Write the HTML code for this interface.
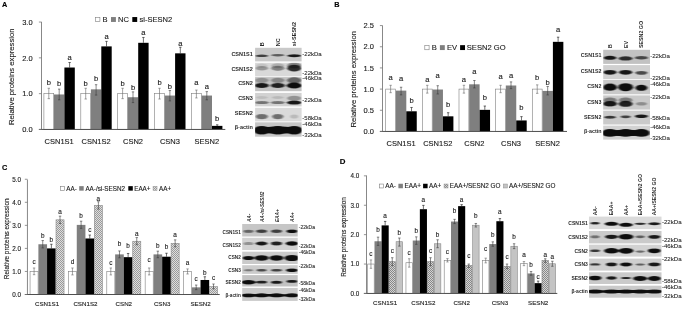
<!DOCTYPE html>
<html lang="en">
<head>
<meta charset="utf-8">
<title>Figure</title>
<style>
html,body{margin:0;padding:0;background:#fff;}
body{width:685px;height:309px;overflow:hidden;}
svg{display:block;font-family:"Liberation Sans", Arial, sans-serif;}
svg text{font-family:"Liberation Sans", Arial, sans-serif;}
</style>
</head>
<body>
<svg width="685" height="309" viewBox="0 0 685 309" style="filter:blur(0.35px)">
<defs>
<filter id="blur" x="-20%" y="-50%" width="140%" height="200%"><feGaussianBlur stdDeviation="1.0 0.7"/></filter>
<pattern id="hatch" width="2" height="2" patternUnits="userSpaceOnUse"><rect width="2" height="2" fill="#dedede"/><rect width="1" height="1" fill="#9a9a9a"/><rect x="1" y="1" width="1" height="1" fill="#9a9a9a"/></pattern>
<pattern id="hatch2" width="2" height="2" patternUnits="userSpaceOnUse"><rect width="2" height="2" fill="#d4d4d4"/><rect width="1" height="1" fill="#888"/><rect x="1" y="1" width="1" height="1" fill="#888"/></pattern>
</defs>
<rect width="685" height="309" fill="#ffffff"/>
<text x="2.00" y="7.30" font-size="7.3" text-anchor="start" font-weight="bold" fill="#000" stroke="#000" stroke-width="0.12">A</text>
<rect x="43.90" y="93.65" width="9.80" height="35.80" fill="#ffffff" stroke="#7f7f7f" stroke-width="0.6"/>
<path d="M48.80 88.28V98.66M47.60 88.28h2.4M47.60 98.66h2.4" stroke="#666" stroke-width="0.6" fill="none"/>
<text x="48.80" y="85.30" font-size="7.6" text-anchor="middle" font-weight="normal" fill="#1a1a1a" stroke="#1a1a1a" stroke-width="0.12">b</text>
<rect x="54.00" y="94.47" width="10.40" height="34.98" fill="#7f7f7f"/>
<path d="M59.20 89.10V99.84M58.00 89.10h2.4M58.00 99.84h2.4" stroke="#3a3a3a" stroke-width="0.6" fill="none"/>
<text x="59.20" y="85.80" font-size="7.6" text-anchor="middle" font-weight="normal" fill="#1a1a1a" stroke="#1a1a1a" stroke-width="0.12">b</text>
<rect x="64.40" y="67.52" width="10.40" height="61.93" fill="#000000"/>
<path d="M69.60 62.50V67.52M68.40 62.50h2.4" stroke="#111" stroke-width="0.6" fill="none"/>
<text x="69.60" y="60.40" font-size="7.6" text-anchor="middle" font-weight="normal" fill="#1a1a1a" stroke="#1a1a1a" stroke-width="0.12">a</text>
<text x="59.20" y="143.90" font-size="7.5" text-anchor="middle" font-weight="normal" fill="#1a1a1a" stroke="#1a1a1a" stroke-width="0.12">CSN1S1</text>
<rect x="80.80" y="93.65" width="9.80" height="35.80" fill="#ffffff" stroke="#7f7f7f" stroke-width="0.6"/>
<path d="M85.70 88.28V99.02M84.50 88.28h2.4M84.50 99.02h2.4" stroke="#666" stroke-width="0.6" fill="none"/>
<text x="85.70" y="85.50" font-size="7.6" text-anchor="middle" font-weight="normal" fill="#1a1a1a" stroke="#1a1a1a" stroke-width="0.12">b</text>
<rect x="90.90" y="89.35" width="10.40" height="40.10" fill="#7f7f7f"/>
<path d="M96.10 84.70V95.08M94.90 84.70h2.4M94.90 95.08h2.4" stroke="#3a3a3a" stroke-width="0.6" fill="none"/>
<text x="96.10" y="81.20" font-size="7.6" text-anchor="middle" font-weight="normal" fill="#1a1a1a" stroke="#1a1a1a" stroke-width="0.12">b</text>
<rect x="101.30" y="46.39" width="10.40" height="83.06" fill="#000000"/>
<path d="M106.50 41.38V46.39M105.30 41.38h2.4" stroke="#111" stroke-width="0.6" fill="none"/>
<text x="106.50" y="39.40" font-size="7.6" text-anchor="middle" font-weight="normal" fill="#1a1a1a" stroke="#1a1a1a" stroke-width="0.12">a</text>
<text x="96.10" y="143.90" font-size="7.5" text-anchor="middle" font-weight="normal" fill="#1a1a1a" stroke="#1a1a1a" stroke-width="0.12">CSN1S2</text>
<rect x="117.70" y="93.65" width="9.80" height="35.80" fill="#ffffff" stroke="#7f7f7f" stroke-width="0.6"/>
<path d="M122.60 88.28V98.66M121.40 88.28h2.4M121.40 98.66h2.4" stroke="#666" stroke-width="0.6" fill="none"/>
<text x="122.60" y="86.00" font-size="7.6" text-anchor="middle" font-weight="normal" fill="#1a1a1a" stroke="#1a1a1a" stroke-width="0.12">b</text>
<rect x="127.80" y="97.23" width="10.40" height="32.22" fill="#7f7f7f"/>
<path d="M133.00 91.86V102.60M131.80 91.86h2.4M131.80 102.60h2.4" stroke="#3a3a3a" stroke-width="0.6" fill="none"/>
<text x="133.00" y="89.50" font-size="7.6" text-anchor="middle" font-weight="normal" fill="#1a1a1a" stroke="#1a1a1a" stroke-width="0.12">b</text>
<rect x="138.20" y="42.81" width="10.40" height="86.64" fill="#000000"/>
<path d="M143.40 37.44V42.81M142.20 37.44h2.4" stroke="#111" stroke-width="0.6" fill="none"/>
<text x="143.40" y="34.60" font-size="7.6" text-anchor="middle" font-weight="normal" fill="#1a1a1a" stroke="#1a1a1a" stroke-width="0.12">a</text>
<text x="133.00" y="143.90" font-size="7.5" text-anchor="middle" font-weight="normal" fill="#1a1a1a" stroke="#1a1a1a" stroke-width="0.12">CSN2</text>
<rect x="154.60" y="93.65" width="9.80" height="35.80" fill="#ffffff" stroke="#7f7f7f" stroke-width="0.6"/>
<path d="M159.50 88.28V99.02M158.30 88.28h2.4M158.30 99.02h2.4" stroke="#666" stroke-width="0.6" fill="none"/>
<text x="159.50" y="85.40" font-size="7.6" text-anchor="middle" font-weight="normal" fill="#1a1a1a" stroke="#1a1a1a" stroke-width="0.12">b</text>
<rect x="164.70" y="95.55" width="10.40" height="33.90" fill="#7f7f7f"/>
<path d="M169.90 90.54V100.92M168.70 90.54h2.4M168.70 100.92h2.4" stroke="#3a3a3a" stroke-width="0.6" fill="none"/>
<text x="169.90" y="88.60" font-size="7.6" text-anchor="middle" font-weight="normal" fill="#1a1a1a" stroke="#1a1a1a" stroke-width="0.12">b</text>
<rect x="175.10" y="53.34" width="10.40" height="76.11" fill="#000000"/>
<path d="M180.30 47.25V53.34M179.10 47.25h2.4" stroke="#111" stroke-width="0.6" fill="none"/>
<text x="180.30" y="45.70" font-size="7.6" text-anchor="middle" font-weight="normal" fill="#1a1a1a" stroke="#1a1a1a" stroke-width="0.12">a</text>
<text x="169.90" y="143.90" font-size="7.5" text-anchor="middle" font-weight="normal" fill="#1a1a1a" stroke="#1a1a1a" stroke-width="0.12">CSN3</text>
<rect x="191.50" y="93.65" width="9.80" height="35.80" fill="#ffffff" stroke="#7f7f7f" stroke-width="0.6"/>
<path d="M196.40 90.07V97.95M195.20 90.07h2.4M195.20 97.95h2.4" stroke="#666" stroke-width="0.6" fill="none"/>
<text x="196.40" y="85.40" font-size="7.6" text-anchor="middle" font-weight="normal" fill="#1a1a1a" stroke="#1a1a1a" stroke-width="0.12">a</text>
<rect x="201.60" y="95.55" width="10.40" height="33.90" fill="#7f7f7f"/>
<path d="M206.80 91.61V99.84M205.60 91.61h2.4M205.60 99.84h2.4" stroke="#3a3a3a" stroke-width="0.6" fill="none"/>
<text x="206.80" y="89.00" font-size="7.6" text-anchor="middle" font-weight="normal" fill="#1a1a1a" stroke="#1a1a1a" stroke-width="0.12">a</text>
<rect x="212.00" y="125.87" width="10.40" height="3.58" fill="#000000"/>
<path d="M217.20 124.80V125.87M216.00 124.80h2.4" stroke="#111" stroke-width="0.6" fill="none"/>
<text x="217.20" y="121.00" font-size="7.6" text-anchor="middle" font-weight="normal" fill="#1a1a1a" stroke="#1a1a1a" stroke-width="0.12">b</text>
<text x="206.80" y="143.90" font-size="7.5" text-anchor="middle" font-weight="normal" fill="#1a1a1a" stroke="#1a1a1a" stroke-width="0.12">SESN2</text>
<path d="M41.50 21.90V129.45" stroke="#7a7a7a" stroke-width="0.9" fill="none"/>
<path d="M38.90 129.45H225.30" stroke="#4a4a4a" stroke-width="0.95" fill="none"/>
<path d="M38.90 129.45h2.6" stroke="#7a7a7a" stroke-width="0.8" fill="none"/>
<text x="32.60" y="132.15" font-size="7.5" text-anchor="end" font-weight="normal" fill="#1a1a1a" stroke="#1a1a1a" stroke-width="0.12">0.0</text>
<path d="M38.90 93.65h2.6" stroke="#7a7a7a" stroke-width="0.8" fill="none"/>
<text x="32.60" y="96.35" font-size="7.5" text-anchor="end" font-weight="normal" fill="#1a1a1a" stroke="#1a1a1a" stroke-width="0.12">1.0</text>
<path d="M38.90 57.85h2.6" stroke="#7a7a7a" stroke-width="0.8" fill="none"/>
<text x="32.60" y="60.55" font-size="7.5" text-anchor="end" font-weight="normal" fill="#1a1a1a" stroke="#1a1a1a" stroke-width="0.12">2.0</text>
<path d="M38.90 22.05h2.6" stroke="#7a7a7a" stroke-width="0.8" fill="none"/>
<text x="32.60" y="24.75" font-size="7.5" text-anchor="end" font-weight="normal" fill="#1a1a1a" stroke="#1a1a1a" stroke-width="0.12">3.0</text>
<text x="14.50" y="76.80" font-size="7.7" text-anchor="middle" font-weight="normal" fill="#1a1a1a" stroke="#1a1a1a" stroke-width="0.12" transform="rotate(-90 14.50 76.80)">Relative proteins expression</text>
<rect x="95.60" y="17.35" width="4.30" height="4.30" fill="#fff" stroke="#7f7f7f" stroke-width="0.6"/>
<text x="102.50" y="21.90" font-size="7.55" text-anchor="start" font-weight="normal" fill="#1a1a1a" stroke="#1a1a1a" stroke-width="0.12">B</text>
<rect x="111.00" y="17.05" width="4.90" height="4.90" fill="#7f7f7f"/>
<text x="118.10" y="21.90" font-size="7.55" text-anchor="start" font-weight="normal" fill="#1a1a1a" stroke="#1a1a1a" stroke-width="0.12">NC</text>
<rect x="132.30" y="17.05" width="4.90" height="4.90" fill="#000"/>
<text x="139.50" y="21.90" font-size="7.55" text-anchor="start" font-weight="normal" fill="#1a1a1a" stroke="#1a1a1a" stroke-width="0.12">si-SESN2</text>
<text x="334.30" y="7.40" font-size="7.3" text-anchor="start" font-weight="bold" fill="#000" stroke="#000" stroke-width="0.12">B</text>
<rect x="385.70" y="89.10" width="9.85" height="42.35" fill="#ffffff" stroke="#7f7f7f" stroke-width="0.6"/>
<path d="M390.62 85.29V92.70M389.43 85.29h2.4M389.43 92.70h2.4" stroke="#666" stroke-width="0.6" fill="none"/>
<text x="390.62" y="79.70" font-size="7.6" text-anchor="middle" font-weight="normal" fill="#1a1a1a" stroke="#1a1a1a" stroke-width="0.12">a</text>
<rect x="395.85" y="90.62" width="10.45" height="40.83" fill="#7f7f7f"/>
<path d="M401.07 87.24V94.86M399.88 87.24h2.4M399.88 94.86h2.4" stroke="#3a3a3a" stroke-width="0.6" fill="none"/>
<text x="401.07" y="80.70" font-size="7.6" text-anchor="middle" font-weight="normal" fill="#1a1a1a" stroke="#1a1a1a" stroke-width="0.12">a</text>
<rect x="406.30" y="111.29" width="10.45" height="20.16" fill="#000000"/>
<path d="M411.52 107.48V111.29M410.32 107.48h2.4" stroke="#111" stroke-width="0.6" fill="none"/>
<text x="411.52" y="102.80" font-size="7.6" text-anchor="middle" font-weight="normal" fill="#1a1a1a" stroke="#1a1a1a" stroke-width="0.12">b</text>
<text x="401.07" y="145.70" font-size="7.5" text-anchor="middle" font-weight="normal" fill="#1a1a1a" stroke="#1a1a1a" stroke-width="0.12">CSN1S1</text>
<rect x="422.35" y="89.10" width="9.85" height="42.35" fill="#ffffff" stroke="#7f7f7f" stroke-width="0.6"/>
<path d="M427.27 85.29V93.12M426.07 85.29h2.4M426.07 93.12h2.4" stroke="#666" stroke-width="0.6" fill="none"/>
<text x="427.27" y="81.60" font-size="7.6" text-anchor="middle" font-weight="normal" fill="#1a1a1a" stroke="#1a1a1a" stroke-width="0.12">a</text>
<rect x="432.50" y="89.52" width="10.45" height="41.93" fill="#7f7f7f"/>
<path d="M437.72 85.71V93.97M436.52 85.71h2.4M436.52 93.97h2.4" stroke="#3a3a3a" stroke-width="0.6" fill="none"/>
<text x="437.72" y="77.50" font-size="7.6" text-anchor="middle" font-weight="normal" fill="#1a1a1a" stroke="#1a1a1a" stroke-width="0.12">a</text>
<rect x="442.95" y="116.33" width="10.45" height="15.12" fill="#000000"/>
<path d="M448.17 112.73V116.33M446.97 112.73h2.4" stroke="#111" stroke-width="0.6" fill="none"/>
<text x="448.17" y="107.00" font-size="7.6" text-anchor="middle" font-weight="normal" fill="#1a1a1a" stroke="#1a1a1a" stroke-width="0.12">b</text>
<text x="437.72" y="145.70" font-size="7.5" text-anchor="middle" font-weight="normal" fill="#1a1a1a" stroke="#1a1a1a" stroke-width="0.12">CSN1S2</text>
<rect x="459.00" y="89.10" width="9.85" height="42.35" fill="#ffffff" stroke="#7f7f7f" stroke-width="0.6"/>
<path d="M463.93 85.29V93.12M462.73 85.29h2.4M462.73 93.12h2.4" stroke="#666" stroke-width="0.6" fill="none"/>
<text x="463.93" y="81.90" font-size="7.6" text-anchor="middle" font-weight="normal" fill="#1a1a1a" stroke="#1a1a1a" stroke-width="0.12">a</text>
<rect x="469.15" y="84.31" width="10.45" height="47.14" fill="#7f7f7f"/>
<path d="M474.38 80.50V87.91M473.18 80.50h2.4M473.18 87.91h2.4" stroke="#3a3a3a" stroke-width="0.6" fill="none"/>
<text x="474.38" y="73.90" font-size="7.6" text-anchor="middle" font-weight="normal" fill="#1a1a1a" stroke="#1a1a1a" stroke-width="0.12">a</text>
<rect x="479.60" y="109.85" width="10.45" height="21.60" fill="#000000"/>
<path d="M484.82 106.04V109.85M483.62 106.04h2.4" stroke="#111" stroke-width="0.6" fill="none"/>
<text x="484.82" y="99.70" font-size="7.6" text-anchor="middle" font-weight="normal" fill="#1a1a1a" stroke="#1a1a1a" stroke-width="0.12">b</text>
<text x="474.38" y="145.70" font-size="7.5" text-anchor="middle" font-weight="normal" fill="#1a1a1a" stroke="#1a1a1a" stroke-width="0.12">CSN2</text>
<rect x="495.65" y="89.10" width="9.85" height="42.35" fill="#ffffff" stroke="#7f7f7f" stroke-width="0.6"/>
<path d="M500.57 85.29V92.70M499.38 85.29h2.4M499.38 92.70h2.4" stroke="#666" stroke-width="0.6" fill="none"/>
<text x="500.57" y="79.40" font-size="7.6" text-anchor="middle" font-weight="normal" fill="#1a1a1a" stroke="#1a1a1a" stroke-width="0.12">a</text>
<rect x="505.80" y="85.50" width="10.45" height="45.95" fill="#7f7f7f"/>
<path d="M511.02 81.90V88.68M509.82 81.90h2.4M509.82 88.68h2.4" stroke="#3a3a3a" stroke-width="0.6" fill="none"/>
<text x="511.02" y="77.50" font-size="7.6" text-anchor="middle" font-weight="normal" fill="#1a1a1a" stroke="#1a1a1a" stroke-width="0.12">a</text>
<rect x="516.25" y="120.44" width="10.45" height="11.01" fill="#000000"/>
<path d="M521.48 116.63V120.44M520.27 116.63h2.4" stroke="#111" stroke-width="0.6" fill="none"/>
<text x="521.48" y="110.40" font-size="7.6" text-anchor="middle" font-weight="normal" fill="#1a1a1a" stroke="#1a1a1a" stroke-width="0.12">b</text>
<text x="511.02" y="145.70" font-size="7.5" text-anchor="middle" font-weight="normal" fill="#1a1a1a" stroke="#1a1a1a" stroke-width="0.12">CSN3</text>
<rect x="532.30" y="89.10" width="9.85" height="42.35" fill="#ffffff" stroke="#7f7f7f" stroke-width="0.6"/>
<path d="M537.23 84.86V93.33M536.02 84.86h2.4M536.02 93.33h2.4" stroke="#666" stroke-width="0.6" fill="none"/>
<text x="537.23" y="80.40" font-size="7.6" text-anchor="middle" font-weight="normal" fill="#1a1a1a" stroke="#1a1a1a" stroke-width="0.12">b</text>
<rect x="542.45" y="90.92" width="10.45" height="40.53" fill="#7f7f7f"/>
<path d="M547.68 86.47V94.94M546.48 86.47h2.4M546.48 94.94h2.4" stroke="#3a3a3a" stroke-width="0.6" fill="none"/>
<text x="547.68" y="84.50" font-size="7.6" text-anchor="middle" font-weight="normal" fill="#1a1a1a" stroke="#1a1a1a" stroke-width="0.12">b</text>
<rect x="552.90" y="41.84" width="10.45" height="89.61" fill="#000000"/>
<path d="M558.12 37.18V41.84M556.92 37.18h2.4" stroke="#111" stroke-width="0.6" fill="none"/>
<text x="558.12" y="31.90" font-size="7.6" text-anchor="middle" font-weight="normal" fill="#1a1a1a" stroke="#1a1a1a" stroke-width="0.12">a</text>
<text x="547.67" y="145.70" font-size="7.5" text-anchor="middle" font-weight="normal" fill="#1a1a1a" stroke="#1a1a1a" stroke-width="0.12">SESN2</text>
<path d="M382.50 25.50V131.45" stroke="#7a7a7a" stroke-width="0.9" fill="none"/>
<path d="M379.90 131.45H567.00" stroke="#4a4a4a" stroke-width="0.95" fill="none"/>
<path d="M379.90 131.45h2.6" stroke="#7a7a7a" stroke-width="0.8" fill="none"/>
<text x="374.00" y="134.15" font-size="7.5" text-anchor="end" font-weight="normal" fill="#1a1a1a" stroke="#1a1a1a" stroke-width="0.12">0.0</text>
<path d="M379.90 110.27h2.6" stroke="#7a7a7a" stroke-width="0.8" fill="none"/>
<text x="374.00" y="112.97" font-size="7.5" text-anchor="end" font-weight="normal" fill="#1a1a1a" stroke="#1a1a1a" stroke-width="0.12">0.5</text>
<path d="M379.90 89.10h2.6" stroke="#7a7a7a" stroke-width="0.8" fill="none"/>
<text x="374.00" y="91.80" font-size="7.5" text-anchor="end" font-weight="normal" fill="#1a1a1a" stroke="#1a1a1a" stroke-width="0.12">1.0</text>
<path d="M379.90 67.92h2.6" stroke="#7a7a7a" stroke-width="0.8" fill="none"/>
<text x="374.00" y="70.62" font-size="7.5" text-anchor="end" font-weight="normal" fill="#1a1a1a" stroke="#1a1a1a" stroke-width="0.12">1.5</text>
<path d="M379.90 46.75h2.6" stroke="#7a7a7a" stroke-width="0.8" fill="none"/>
<text x="374.00" y="49.45" font-size="7.5" text-anchor="end" font-weight="normal" fill="#1a1a1a" stroke="#1a1a1a" stroke-width="0.12">2.0</text>
<path d="M379.90 25.57h2.6" stroke="#7a7a7a" stroke-width="0.8" fill="none"/>
<text x="374.00" y="28.27" font-size="7.5" text-anchor="end" font-weight="normal" fill="#1a1a1a" stroke="#1a1a1a" stroke-width="0.12">2.5</text>
<text x="356.00" y="79.30" font-size="7.7" text-anchor="middle" font-weight="normal" fill="#1a1a1a" stroke="#1a1a1a" stroke-width="0.12" transform="rotate(-90 356.00 79.30)">Relative proteins expression</text>
<rect x="424.80" y="45.45" width="4.30" height="4.30" fill="#fff" stroke="#7f7f7f" stroke-width="0.6"/>
<text x="431.70" y="50.00" font-size="7.6" text-anchor="start" font-weight="normal" fill="#1a1a1a" stroke="#1a1a1a" stroke-width="0.12">B</text>
<rect x="439.90" y="45.15" width="4.90" height="4.90" fill="#7f7f7f"/>
<text x="447.00" y="50.00" font-size="7.6" text-anchor="start" font-weight="normal" fill="#1a1a1a" stroke="#1a1a1a" stroke-width="0.12">EV</text>
<rect x="460.10" y="45.15" width="4.90" height="4.90" fill="#000"/>
<text x="466.80" y="50.00" font-size="7.6" text-anchor="start" font-weight="normal" fill="#1a1a1a" stroke="#1a1a1a" stroke-width="0.12">SESN2 GO</text>
<text x="2.00" y="170.30" font-size="7.3" text-anchor="start" font-weight="bold" fill="#000" stroke="#000" stroke-width="0.12">C</text>
<rect x="30.05" y="271.45" width="8.05" height="23.05" fill="#ffffff" stroke="#7f7f7f" stroke-width="0.6"/>
<path d="M34.08 267.99V274.68M32.88 267.99h2.4M32.88 274.68h2.4" stroke="#666" stroke-width="0.6" fill="none"/>
<text x="34.08" y="263.80" font-size="6.4" text-anchor="middle" font-weight="normal" fill="#1a1a1a" stroke="#1a1a1a" stroke-width="0.12">c</text>
<rect x="38.40" y="244.25" width="8.65" height="50.25" fill="#7f7f7f"/>
<path d="M42.73 240.56V247.94M41.52 240.56h2.4M41.52 247.94h2.4" stroke="#3a3a3a" stroke-width="0.6" fill="none"/>
<text x="42.73" y="237.90" font-size="6.4" text-anchor="middle" font-weight="normal" fill="#1a1a1a" stroke="#1a1a1a" stroke-width="0.12">b</text>
<rect x="47.05" y="248.40" width="8.65" height="46.10" fill="#000000"/>
<path d="M51.38 244.25V248.40M50.17 244.25h2.4" stroke="#111" stroke-width="0.6" fill="none"/>
<text x="51.38" y="241.60" font-size="6.4" text-anchor="middle" font-weight="normal" fill="#1a1a1a" stroke="#1a1a1a" stroke-width="0.12">b</text>
<rect x="56.00" y="219.82" width="8.05" height="74.68" fill="url(#hatch)" stroke="#8a8a8a" stroke-width="0.6"/>
<path d="M60.03 216.13V223.51M58.83 216.13h2.4M58.83 223.51h2.4" stroke="#3a3a3a" stroke-width="0.6" fill="none"/>
<text x="60.03" y="214.40" font-size="6.4" text-anchor="middle" font-weight="normal" fill="#1a1a1a" stroke="#1a1a1a" stroke-width="0.12">a</text>
<text x="47.05" y="306.30" font-size="6.2" text-anchor="middle" font-weight="normal" fill="#1a1a1a" stroke="#1a1a1a" stroke-width="0.12">CSN1S1</text>
<rect x="68.42" y="271.45" width="8.05" height="23.05" fill="#ffffff" stroke="#7f7f7f" stroke-width="0.6"/>
<path d="M72.45 267.99V274.91M71.25 267.99h2.4M71.25 274.91h2.4" stroke="#666" stroke-width="0.6" fill="none"/>
<text x="72.45" y="263.80" font-size="6.4" text-anchor="middle" font-weight="normal" fill="#1a1a1a" stroke="#1a1a1a" stroke-width="0.12">d</text>
<rect x="76.77" y="224.89" width="8.65" height="69.61" fill="#7f7f7f"/>
<path d="M81.10 221.20V228.35M79.90 221.20h2.4M79.90 228.35h2.4" stroke="#3a3a3a" stroke-width="0.6" fill="none"/>
<text x="81.10" y="217.60" font-size="6.4" text-anchor="middle" font-weight="normal" fill="#1a1a1a" stroke="#1a1a1a" stroke-width="0.12">b</text>
<rect x="85.42" y="238.49" width="8.65" height="56.01" fill="#000000"/>
<path d="M89.75 235.03V238.49M88.55 235.03h2.4" stroke="#111" stroke-width="0.6" fill="none"/>
<text x="89.75" y="231.50" font-size="6.4" text-anchor="middle" font-weight="normal" fill="#1a1a1a" stroke="#1a1a1a" stroke-width="0.12">c</text>
<rect x="94.37" y="205.41" width="8.05" height="89.09" fill="url(#hatch)" stroke="#8a8a8a" stroke-width="0.6"/>
<path d="M98.40 201.72V209.10M97.20 201.72h2.4M97.20 209.10h2.4" stroke="#3a3a3a" stroke-width="0.6" fill="none"/>
<text x="98.40" y="200.50" font-size="6.4" text-anchor="middle" font-weight="normal" fill="#1a1a1a" stroke="#1a1a1a" stroke-width="0.12">a</text>
<text x="85.42" y="306.30" font-size="6.2" text-anchor="middle" font-weight="normal" fill="#1a1a1a" stroke="#1a1a1a" stroke-width="0.12">CSN1S2</text>
<rect x="106.79" y="271.45" width="8.05" height="23.05" fill="#ffffff" stroke="#7f7f7f" stroke-width="0.6"/>
<path d="M110.81 267.99V274.91M109.61 267.99h2.4M109.61 274.91h2.4" stroke="#666" stroke-width="0.6" fill="none"/>
<text x="110.81" y="265.30" font-size="6.4" text-anchor="middle" font-weight="normal" fill="#1a1a1a" stroke="#1a1a1a" stroke-width="0.12">c</text>
<rect x="115.14" y="254.39" width="8.65" height="40.11" fill="#7f7f7f"/>
<path d="M119.47 250.94V257.85M118.27 250.94h2.4M118.27 257.85h2.4" stroke="#3a3a3a" stroke-width="0.6" fill="none"/>
<text x="119.47" y="245.80" font-size="6.4" text-anchor="middle" font-weight="normal" fill="#1a1a1a" stroke="#1a1a1a" stroke-width="0.12">b</text>
<rect x="123.79" y="257.16" width="8.65" height="37.34" fill="#000000"/>
<path d="M128.11 253.47V257.16M126.91 253.47h2.4" stroke="#111" stroke-width="0.6" fill="none"/>
<text x="128.11" y="247.80" font-size="6.4" text-anchor="middle" font-weight="normal" fill="#1a1a1a" stroke="#1a1a1a" stroke-width="0.12">b</text>
<rect x="132.74" y="241.25" width="8.05" height="53.25" fill="url(#hatch)" stroke="#8a8a8a" stroke-width="0.6"/>
<path d="M136.76 237.57V244.71M135.56 237.57h2.4M135.56 244.71h2.4" stroke="#3a3a3a" stroke-width="0.6" fill="none"/>
<text x="136.76" y="235.50" font-size="6.4" text-anchor="middle" font-weight="normal" fill="#1a1a1a" stroke="#1a1a1a" stroke-width="0.12">a</text>
<text x="123.79" y="306.30" font-size="6.2" text-anchor="middle" font-weight="normal" fill="#1a1a1a" stroke="#1a1a1a" stroke-width="0.12">CSN2</text>
<rect x="145.16" y="271.45" width="8.05" height="23.05" fill="#ffffff" stroke="#7f7f7f" stroke-width="0.6"/>
<path d="M149.18 267.99V274.91M147.98 267.99h2.4M147.98 274.91h2.4" stroke="#666" stroke-width="0.6" fill="none"/>
<text x="149.18" y="261.80" font-size="6.4" text-anchor="middle" font-weight="normal" fill="#1a1a1a" stroke="#1a1a1a" stroke-width="0.12">c</text>
<rect x="153.51" y="254.39" width="8.65" height="40.11" fill="#7f7f7f"/>
<path d="M157.83 251.17V257.74M156.63 251.17h2.4M156.63 257.74h2.4" stroke="#3a3a3a" stroke-width="0.6" fill="none"/>
<text x="157.83" y="248.20" font-size="6.4" text-anchor="middle" font-weight="normal" fill="#1a1a1a" stroke="#1a1a1a" stroke-width="0.12">b</text>
<rect x="162.16" y="256.70" width="8.65" height="37.80" fill="#000000"/>
<path d="M166.48 253.24V256.70M165.28 253.24h2.4" stroke="#111" stroke-width="0.6" fill="none"/>
<text x="166.48" y="249.00" font-size="6.4" text-anchor="middle" font-weight="normal" fill="#1a1a1a" stroke="#1a1a1a" stroke-width="0.12">b</text>
<rect x="171.11" y="243.33" width="8.05" height="51.17" fill="url(#hatch)" stroke="#8a8a8a" stroke-width="0.6"/>
<path d="M175.13 239.87V246.79M173.94 239.87h2.4M173.94 246.79h2.4" stroke="#3a3a3a" stroke-width="0.6" fill="none"/>
<text x="175.13" y="237.30" font-size="6.4" text-anchor="middle" font-weight="normal" fill="#1a1a1a" stroke="#1a1a1a" stroke-width="0.12">a</text>
<text x="162.16" y="306.30" font-size="6.2" text-anchor="middle" font-weight="normal" fill="#1a1a1a" stroke="#1a1a1a" stroke-width="0.12">CSN3</text>
<rect x="183.53" y="271.45" width="8.05" height="23.05" fill="#ffffff" stroke="#7f7f7f" stroke-width="0.6"/>
<path d="M187.55 268.91V273.99M186.35 268.91h2.4M186.35 273.99h2.4" stroke="#666" stroke-width="0.6" fill="none"/>
<text x="187.55" y="265.30" font-size="6.4" text-anchor="middle" font-weight="normal" fill="#1a1a1a" stroke="#1a1a1a" stroke-width="0.12">a</text>
<rect x="191.88" y="287.35" width="8.65" height="7.15" fill="#7f7f7f"/>
<path d="M196.20 285.05V289.66M195.00 285.05h2.4M195.00 289.66h2.4" stroke="#3a3a3a" stroke-width="0.6" fill="none"/>
<text x="196.20" y="281.00" font-size="6.4" text-anchor="middle" font-weight="normal" fill="#1a1a1a" stroke="#1a1a1a" stroke-width="0.12">c</text>
<rect x="200.53" y="279.98" width="8.65" height="14.52" fill="#000000"/>
<path d="M204.85 276.75V279.98M203.66 276.75h2.4" stroke="#111" stroke-width="0.6" fill="none"/>
<text x="204.85" y="275.00" font-size="6.4" text-anchor="middle" font-weight="normal" fill="#1a1a1a" stroke="#1a1a1a" stroke-width="0.12">b</text>
<rect x="209.48" y="286.66" width="8.05" height="7.84" fill="url(#hatch)" stroke="#8a8a8a" stroke-width="0.6"/>
<path d="M213.50 284.01V288.85M212.31 284.01h2.4M212.31 288.85h2.4" stroke="#3a3a3a" stroke-width="0.6" fill="none"/>
<text x="213.50" y="280.40" font-size="6.4" text-anchor="middle" font-weight="normal" fill="#1a1a1a" stroke="#1a1a1a" stroke-width="0.12">c</text>
<text x="200.53" y="306.30" font-size="6.2" text-anchor="middle" font-weight="normal" fill="#1a1a1a" stroke="#1a1a1a" stroke-width="0.12">SESN2</text>
<path d="M27.45 179.60V294.50" stroke="#7a7a7a" stroke-width="0.9" fill="none"/>
<path d="M24.85 294.50H219.70" stroke="#4a4a4a" stroke-width="0.95" fill="none"/>
<path d="M24.85 294.50h2.6" stroke="#7a7a7a" stroke-width="0.8" fill="none"/>
<text x="20.90" y="296.77" font-size="6.3" text-anchor="end" font-weight="normal" fill="#1a1a1a" stroke="#1a1a1a" stroke-width="0.12">0.0</text>
<path d="M24.85 271.45h2.6" stroke="#7a7a7a" stroke-width="0.8" fill="none"/>
<text x="20.90" y="273.72" font-size="6.3" text-anchor="end" font-weight="normal" fill="#1a1a1a" stroke="#1a1a1a" stroke-width="0.12">1.0</text>
<path d="M24.85 248.40h2.6" stroke="#7a7a7a" stroke-width="0.8" fill="none"/>
<text x="20.90" y="250.67" font-size="6.3" text-anchor="end" font-weight="normal" fill="#1a1a1a" stroke="#1a1a1a" stroke-width="0.12">2.0</text>
<path d="M24.85 225.35h2.6" stroke="#7a7a7a" stroke-width="0.8" fill="none"/>
<text x="20.90" y="227.62" font-size="6.3" text-anchor="end" font-weight="normal" fill="#1a1a1a" stroke="#1a1a1a" stroke-width="0.12">3.0</text>
<path d="M24.85 202.30h2.6" stroke="#7a7a7a" stroke-width="0.8" fill="none"/>
<text x="20.90" y="204.57" font-size="6.3" text-anchor="end" font-weight="normal" fill="#1a1a1a" stroke="#1a1a1a" stroke-width="0.12">4.0</text>
<path d="M24.85 179.25h2.6" stroke="#7a7a7a" stroke-width="0.8" fill="none"/>
<text x="20.90" y="181.52" font-size="6.3" text-anchor="end" font-weight="normal" fill="#1a1a1a" stroke="#1a1a1a" stroke-width="0.12">5.0</text>
<text x="9.40" y="238.80" font-size="6.45" text-anchor="middle" font-weight="normal" fill="#1a1a1a" stroke="#1a1a1a" stroke-width="0.12" transform="rotate(-90 9.40 238.80)">Relative proteins expression</text>
<rect x="60.50" y="186.45" width="3.90" height="3.90" fill="#fff" stroke="#7f7f7f" stroke-width="0.6"/>
<text x="66.30" y="190.50" font-size="6.3" text-anchor="start" font-weight="normal" fill="#1a1a1a" stroke="#1a1a1a" stroke-width="0.12">AA-</text>
<rect x="79.20" y="186.15" width="4.50" height="4.50" fill="#7f7f7f"/>
<text x="85.40" y="190.50" font-size="6.3" text-anchor="start" font-weight="normal" fill="#1a1a1a" stroke="#1a1a1a" stroke-width="0.12">AA-/si-SESN2</text>
<rect x="128.30" y="186.15" width="4.50" height="4.50" fill="#000"/>
<text x="134.20" y="190.50" font-size="6.3" text-anchor="start" font-weight="normal" fill="#1a1a1a" stroke="#1a1a1a" stroke-width="0.12">EAA+</text>
<rect x="153.10" y="186.45" width="3.90" height="3.90" fill="url(#hatch)" stroke="#999" stroke-width="0.6"/>
<text x="159.00" y="190.50" font-size="6.3" text-anchor="start" font-weight="normal" fill="#1a1a1a" stroke="#1a1a1a" stroke-width="0.12">AA+</text>
<text x="339.80" y="164.20" font-size="7.9" text-anchor="start" font-weight="bold" fill="#000" stroke="#000" stroke-width="0.12">D</text>
<rect x="367.70" y="264.05" width="6.50" height="29.40" fill="#ffffff" stroke="#7f7f7f" stroke-width="0.6"/>
<path d="M370.95 259.93V268.31M369.75 259.93h2.4M369.75 268.31h2.4" stroke="#666" stroke-width="0.6" fill="none"/>
<text x="370.95" y="255.80" font-size="6.4" text-anchor="middle" font-weight="normal" fill="#1a1a1a" stroke="#1a1a1a" stroke-width="0.12">c</text>
<rect x="374.50" y="241.26" width="7.10" height="52.19" fill="#7f7f7f"/>
<path d="M378.05 237.15V245.38M376.85 237.15h2.4M376.85 245.38h2.4" stroke="#3a3a3a" stroke-width="0.6" fill="none"/>
<text x="378.05" y="231.80" font-size="6.4" text-anchor="middle" font-weight="normal" fill="#1a1a1a" stroke="#1a1a1a" stroke-width="0.12">b</text>
<rect x="381.60" y="225.39" width="7.10" height="68.06" fill="#000000"/>
<path d="M385.15 221.42V225.39M383.95 221.42h2.4" stroke="#111" stroke-width="0.6" fill="none"/>
<text x="385.15" y="218.20" font-size="6.4" text-anchor="middle" font-weight="normal" fill="#1a1a1a" stroke="#1a1a1a" stroke-width="0.12">a</text>
<rect x="389.00" y="261.70" width="6.50" height="31.75" fill="url(#hatch2)" stroke="#808080" stroke-width="0.6"/>
<path d="M392.25 257.73V265.67M391.05 257.73h2.4M391.05 265.67h2.4" stroke="#3a3a3a" stroke-width="0.6" fill="none"/>
<text x="392.25" y="253.40" font-size="6.4" text-anchor="middle" font-weight="normal" fill="#1a1a1a" stroke="#1a1a1a" stroke-width="0.12">c</text>
<rect x="396.10" y="241.71" width="6.50" height="51.74" fill="#c4c4c4" stroke="#8a8a8a" stroke-width="0.6"/>
<path d="M399.35 238.03V246.12M398.15 238.03h2.4M398.15 246.12h2.4" stroke="#3a3a3a" stroke-width="0.6" fill="none"/>
<text x="399.35" y="234.70" font-size="6.4" text-anchor="middle" font-weight="normal" fill="#1a1a1a" stroke="#1a1a1a" stroke-width="0.12">b</text>
<text x="385.15" y="305.20" font-size="6.2" text-anchor="middle" font-weight="normal" fill="#1a1a1a" stroke="#1a1a1a" stroke-width="0.12">CSN1S1</text>
<rect x="405.95" y="262.73" width="6.50" height="30.72" fill="#ffffff" stroke="#7f7f7f" stroke-width="0.6"/>
<path d="M409.20 258.76V267.14M408.00 258.76h2.4M408.00 267.14h2.4" stroke="#666" stroke-width="0.6" fill="none"/>
<text x="409.20" y="254.60" font-size="6.4" text-anchor="middle" font-weight="normal" fill="#1a1a1a" stroke="#1a1a1a" stroke-width="0.12">c</text>
<rect x="412.75" y="240.53" width="7.10" height="52.92" fill="#7f7f7f"/>
<path d="M416.30 236.85V244.35M415.10 236.85h2.4M415.10 244.35h2.4" stroke="#3a3a3a" stroke-width="0.6" fill="none"/>
<text x="416.30" y="232.80" font-size="6.4" text-anchor="middle" font-weight="normal" fill="#1a1a1a" stroke="#1a1a1a" stroke-width="0.12">b</text>
<rect x="419.85" y="209.19" width="7.10" height="84.26" fill="#000000"/>
<path d="M423.40 205.37V209.19M422.20 205.37h2.4" stroke="#111" stroke-width="0.6" fill="none"/>
<text x="423.40" y="202.20" font-size="6.4" text-anchor="middle" font-weight="normal" fill="#1a1a1a" stroke="#1a1a1a" stroke-width="0.12">a</text>
<rect x="427.25" y="261.70" width="6.50" height="31.75" fill="url(#hatch2)" stroke="#808080" stroke-width="0.6"/>
<path d="M430.50 257.73V265.67M429.30 257.73h2.4M429.30 265.67h2.4" stroke="#3a3a3a" stroke-width="0.6" fill="none"/>
<text x="430.50" y="253.40" font-size="6.4" text-anchor="middle" font-weight="normal" fill="#1a1a1a" stroke="#1a1a1a" stroke-width="0.12">c</text>
<rect x="434.35" y="243.76" width="6.50" height="49.69" fill="#c4c4c4" stroke="#8a8a8a" stroke-width="0.6"/>
<path d="M437.60 239.79V247.73M436.40 239.79h2.4M436.40 247.73h2.4" stroke="#3a3a3a" stroke-width="0.6" fill="none"/>
<text x="437.60" y="236.80" font-size="6.4" text-anchor="middle" font-weight="normal" fill="#1a1a1a" stroke="#1a1a1a" stroke-width="0.12">b</text>
<text x="423.40" y="305.20" font-size="6.2" text-anchor="middle" font-weight="normal" fill="#1a1a1a" stroke="#1a1a1a" stroke-width="0.12">CSN1S2</text>
<rect x="444.20" y="260.52" width="6.50" height="32.93" fill="#ffffff" stroke="#7f7f7f" stroke-width="0.6"/>
<path d="M447.45 258.61V261.99M446.25 258.61h2.4M446.25 261.99h2.4" stroke="#666" stroke-width="0.6" fill="none"/>
<text x="447.45" y="253.70" font-size="6.4" text-anchor="middle" font-weight="normal" fill="#1a1a1a" stroke="#1a1a1a" stroke-width="0.12">c</text>
<rect x="451.00" y="221.54" width="7.10" height="71.91" fill="#7f7f7f"/>
<path d="M454.55 219.33V223.60M453.35 219.33h2.4M453.35 223.60h2.4" stroke="#3a3a3a" stroke-width="0.6" fill="none"/>
<text x="454.55" y="212.50" font-size="6.4" text-anchor="middle" font-weight="normal" fill="#1a1a1a" stroke="#1a1a1a" stroke-width="0.12">b</text>
<rect x="458.10" y="206.13" width="7.10" height="87.32" fill="#000000"/>
<path d="M461.65 204.66V206.13M460.45 204.66h2.4" stroke="#111" stroke-width="0.6" fill="none"/>
<text x="461.65" y="201.90" font-size="6.4" text-anchor="middle" font-weight="normal" fill="#1a1a1a" stroke="#1a1a1a" stroke-width="0.12">a</text>
<rect x="465.50" y="265.67" width="6.50" height="27.78" fill="url(#hatch2)" stroke="#808080" stroke-width="0.6"/>
<path d="M468.75 264.05V267.43M467.55 264.05h2.4M467.55 267.43h2.4" stroke="#3a3a3a" stroke-width="0.6" fill="none"/>
<text x="468.75" y="257.60" font-size="6.4" text-anchor="middle" font-weight="normal" fill="#1a1a1a" stroke="#1a1a1a" stroke-width="0.12">c</text>
<rect x="472.60" y="225.24" width="6.50" height="68.21" fill="#c4c4c4" stroke="#8a8a8a" stroke-width="0.6"/>
<path d="M475.85 223.48V227.01M474.65 223.48h2.4M474.65 227.01h2.4" stroke="#3a3a3a" stroke-width="0.6" fill="none"/>
<text x="475.85" y="218.40" font-size="6.4" text-anchor="middle" font-weight="normal" fill="#1a1a1a" stroke="#1a1a1a" stroke-width="0.12">b</text>
<text x="461.65" y="305.20" font-size="6.2" text-anchor="middle" font-weight="normal" fill="#1a1a1a" stroke="#1a1a1a" stroke-width="0.12">CSN2</text>
<rect x="482.45" y="260.52" width="6.50" height="32.93" fill="#ffffff" stroke="#7f7f7f" stroke-width="0.6"/>
<path d="M485.70 258.17V262.87M484.50 258.17h2.4M484.50 262.87h2.4" stroke="#666" stroke-width="0.6" fill="none"/>
<text x="485.70" y="250.80" font-size="6.4" text-anchor="middle" font-weight="normal" fill="#1a1a1a" stroke="#1a1a1a" stroke-width="0.12">c</text>
<rect x="489.25" y="244.06" width="7.10" height="49.39" fill="#7f7f7f"/>
<path d="M492.80 241.85V246.26M491.60 241.85h2.4M491.60 246.26h2.4" stroke="#3a3a3a" stroke-width="0.6" fill="none"/>
<text x="492.80" y="237.30" font-size="6.4" text-anchor="middle" font-weight="normal" fill="#1a1a1a" stroke="#1a1a1a" stroke-width="0.12">b</text>
<rect x="496.35" y="221.21" width="7.10" height="72.24" fill="#000000"/>
<path d="M499.90 218.57V221.21M498.70 218.57h2.4" stroke="#111" stroke-width="0.6" fill="none"/>
<text x="499.90" y="213.70" font-size="6.4" text-anchor="middle" font-weight="normal" fill="#1a1a1a" stroke="#1a1a1a" stroke-width="0.12">a</text>
<rect x="503.75" y="266.40" width="6.50" height="27.05" fill="url(#hatch2)" stroke="#808080" stroke-width="0.6"/>
<path d="M507.00 264.05V268.61M505.80 264.05h2.4M505.80 268.61h2.4" stroke="#3a3a3a" stroke-width="0.6" fill="none"/>
<text x="507.00" y="259.40" font-size="6.4" text-anchor="middle" font-weight="normal" fill="#1a1a1a" stroke="#1a1a1a" stroke-width="0.12">c</text>
<rect x="510.85" y="246.26" width="6.50" height="47.19" fill="#c4c4c4" stroke="#8a8a8a" stroke-width="0.6"/>
<path d="M514.10 243.76V248.62M512.90 243.76h2.4M512.90 248.62h2.4" stroke="#3a3a3a" stroke-width="0.6" fill="none"/>
<text x="514.10" y="238.50" font-size="6.4" text-anchor="middle" font-weight="normal" fill="#1a1a1a" stroke="#1a1a1a" stroke-width="0.12">b</text>
<text x="499.90" y="305.20" font-size="6.2" text-anchor="middle" font-weight="normal" fill="#1a1a1a" stroke="#1a1a1a" stroke-width="0.12">CSN3</text>
<rect x="520.70" y="263.61" width="6.50" height="29.84" fill="#ffffff" stroke="#7f7f7f" stroke-width="0.6"/>
<path d="M523.95 261.55V265.67M522.75 261.55h2.4M522.75 265.67h2.4" stroke="#666" stroke-width="0.6" fill="none"/>
<text x="523.95" y="257.30" font-size="6.4" text-anchor="middle" font-weight="normal" fill="#1a1a1a" stroke="#1a1a1a" stroke-width="0.12">a</text>
<rect x="527.50" y="273.46" width="7.10" height="19.99" fill="#7f7f7f"/>
<path d="M531.05 271.55V275.22M529.85 271.55h2.4M529.85 275.22h2.4" stroke="#3a3a3a" stroke-width="0.6" fill="none"/>
<text x="531.05" y="266.80" font-size="6.4" text-anchor="middle" font-weight="normal" fill="#1a1a1a" stroke="#1a1a1a" stroke-width="0.12">b</text>
<rect x="534.60" y="283.16" width="7.10" height="10.29" fill="#000000"/>
<path d="M538.15 281.10V283.16M536.95 281.10h2.4" stroke="#111" stroke-width="0.6" fill="none"/>
<text x="538.15" y="278.80" font-size="6.4" text-anchor="middle" font-weight="normal" fill="#1a1a1a" stroke="#1a1a1a" stroke-width="0.12">c</text>
<rect x="542.00" y="260.52" width="6.50" height="32.93" fill="url(#hatch2)" stroke="#808080" stroke-width="0.6"/>
<path d="M545.25 258.76V262.29M544.05 258.76h2.4M544.05 262.29h2.4" stroke="#3a3a3a" stroke-width="0.6" fill="none"/>
<text x="545.25" y="256.90" font-size="6.4" text-anchor="middle" font-weight="normal" fill="#1a1a1a" stroke="#1a1a1a" stroke-width="0.12">a</text>
<rect x="549.10" y="263.76" width="6.50" height="29.69" fill="#c4c4c4" stroke="#8a8a8a" stroke-width="0.6"/>
<path d="M552.35 261.26V266.25M551.15 261.26h2.4M551.15 266.25h2.4" stroke="#3a3a3a" stroke-width="0.6" fill="none"/>
<text x="552.35" y="259.20" font-size="6.4" text-anchor="middle" font-weight="normal" fill="#1a1a1a" stroke="#1a1a1a" stroke-width="0.12">a</text>
<text x="538.15" y="305.20" font-size="6.2" text-anchor="middle" font-weight="normal" fill="#1a1a1a" stroke="#1a1a1a" stroke-width="0.12">SESN2</text>
<path d="M366.50 175.50V293.45" stroke="#7a7a7a" stroke-width="0.9" fill="none"/>
<path d="M363.90 293.45H557.30" stroke="#4a4a4a" stroke-width="0.95" fill="none"/>
<path d="M363.90 293.45h2.6" stroke="#7a7a7a" stroke-width="0.8" fill="none"/>
<text x="359.20" y="295.72" font-size="6.3" text-anchor="end" font-weight="normal" fill="#1a1a1a" stroke="#1a1a1a" stroke-width="0.12">0.0</text>
<path d="M363.90 264.05h2.6" stroke="#7a7a7a" stroke-width="0.8" fill="none"/>
<text x="359.20" y="266.32" font-size="6.3" text-anchor="end" font-weight="normal" fill="#1a1a1a" stroke="#1a1a1a" stroke-width="0.12">1.0</text>
<path d="M363.90 234.65h2.6" stroke="#7a7a7a" stroke-width="0.8" fill="none"/>
<text x="359.20" y="236.92" font-size="6.3" text-anchor="end" font-weight="normal" fill="#1a1a1a" stroke="#1a1a1a" stroke-width="0.12">2.0</text>
<path d="M363.90 205.25h2.6" stroke="#7a7a7a" stroke-width="0.8" fill="none"/>
<text x="359.20" y="207.52" font-size="6.3" text-anchor="end" font-weight="normal" fill="#1a1a1a" stroke="#1a1a1a" stroke-width="0.12">3.0</text>
<path d="M363.90 175.85h2.6" stroke="#7a7a7a" stroke-width="0.8" fill="none"/>
<text x="359.20" y="178.12" font-size="6.3" text-anchor="end" font-weight="normal" fill="#1a1a1a" stroke="#1a1a1a" stroke-width="0.12">4.0</text>
<text x="346.00" y="237.00" font-size="6.35" text-anchor="middle" font-weight="normal" fill="#1a1a1a" stroke="#1a1a1a" stroke-width="0.12" transform="rotate(-90 346.00 237.00)">Relative proteins expression</text>
<rect x="379.60" y="184.05" width="3.90" height="3.90" fill="#fff" stroke="#7f7f7f" stroke-width="0.6"/>
<text x="385.20" y="187.90" font-size="6.35" text-anchor="start" font-weight="normal" fill="#1a1a1a" stroke="#1a1a1a" stroke-width="0.12">AA-</text>
<rect x="398.40" y="183.75" width="4.50" height="4.50" fill="#7f7f7f"/>
<text x="404.50" y="187.90" font-size="6.35" text-anchor="start" font-weight="normal" fill="#1a1a1a" stroke="#1a1a1a" stroke-width="0.12">EAA+</text>
<rect x="423.10" y="183.75" width="4.50" height="4.50" fill="#000"/>
<text x="429.00" y="187.90" font-size="6.35" text-anchor="start" font-weight="normal" fill="#1a1a1a" stroke="#1a1a1a" stroke-width="0.12">AA+</text>
<rect x="444.10" y="184.05" width="3.90" height="3.90" fill="url(#hatch2)" stroke="#999" stroke-width="0.6"/>
<text x="449.80" y="187.90" font-size="6.35" text-anchor="start" font-weight="normal" fill="#1a1a1a" stroke="#1a1a1a" stroke-width="0.12">EAA+/SESN2 GO</text>
<rect x="503.40" y="184.05" width="3.90" height="3.90" fill="#c4c4c4" stroke="#999" stroke-width="0.6"/>
<text x="509.00" y="187.90" font-size="6.35" text-anchor="start" font-weight="normal" fill="#1a1a1a" stroke="#1a1a1a" stroke-width="0.12">AA+/SESN2 GO</text>
<clipPath id="Ac0"><rect x="255.10" y="47.80" width="46.50" height="13.60"/></clipPath>
<rect x="255.10" y="47.80" width="46.50" height="13.60" fill="#c9c9c9"/>
<g clip-path="url(#Ac0)"><g filter="url(#blur)">
<ellipse cx="261.80" cy="55.80" rx="6.50" ry="1.30" fill="#111" fill-opacity="0.75"/>
<ellipse cx="277.80" cy="55.20" rx="6.50" ry="1.20" fill="#111" fill-opacity="0.6"/>
<ellipse cx="294.20" cy="55.80" rx="7.00" ry="1.50" fill="#111" fill-opacity="0.95"/>
</g></g>
<text x="252.80" y="55.98" font-size="5.5" text-anchor="end" font-weight="bold" fill="#2a2a2a" stroke="#2a2a2a" stroke-width="0">CSN1S1</text>
<clipPath id="Ac1"><rect x="255.10" y="62.80" width="46.50" height="13.60"/></clipPath>
<rect x="255.10" y="62.80" width="46.50" height="13.60" fill="#d9d9d9"/>
<g clip-path="url(#Ac1)"><g filter="url(#blur)">
<ellipse cx="261.80" cy="68.20" rx="6.50" ry="2.20" fill="#111" fill-opacity="0.3"/>
<ellipse cx="277.80" cy="68.20" rx="6.50" ry="2.50" fill="#111" fill-opacity="0.45"/>
<ellipse cx="294.20" cy="68.20" rx="7.00" ry="3.40" fill="#111" fill-opacity="0.85"/>
<ellipse cx="277.80" cy="65.80" rx="6.50" ry="2.50" fill="#111" fill-opacity="0.2"/>
<ellipse cx="294.20" cy="65.50" rx="7.00" ry="3.00" fill="#111" fill-opacity="0.45"/>
<ellipse cx="261.80" cy="65.80" rx="6.00" ry="2.20" fill="#111" fill-opacity="0.1"/>
</g></g>
<text x="252.80" y="70.88" font-size="5.5" text-anchor="end" font-weight="bold" fill="#2a2a2a" stroke="#2a2a2a" stroke-width="0">CSN1S2</text>
<clipPath id="Ac2"><rect x="255.10" y="77.10" width="46.50" height="14.10"/></clipPath>
<rect x="255.10" y="77.10" width="46.50" height="14.10" fill="#c2c2c2"/>
<g clip-path="url(#Ac2)"><g filter="url(#blur)">
<ellipse cx="261.80" cy="85.50" rx="7.00" ry="2.50" fill="#111" fill-opacity="0.95"/>
<ellipse cx="277.80" cy="85.50" rx="7.00" ry="2.50" fill="#111" fill-opacity="0.9"/>
<ellipse cx="294.20" cy="85.50" rx="7.50" ry="3.00" fill="#111" fill-opacity="1"/>
<ellipse cx="261.80" cy="80.30" rx="6.50" ry="2.60" fill="#111" fill-opacity="0.25"/>
<ellipse cx="277.80" cy="80.30" rx="6.50" ry="2.60" fill="#111" fill-opacity="0.3"/>
<ellipse cx="294.20" cy="80.30" rx="7.00" ry="3.00" fill="#111" fill-opacity="0.55"/>
</g></g>
<text x="252.80" y="84.58" font-size="5.5" text-anchor="end" font-weight="bold" fill="#2a2a2a" stroke="#2a2a2a" stroke-width="0">CSN2</text>
<clipPath id="Ac3"><rect x="255.10" y="92.90" width="46.50" height="13.50"/></clipPath>
<rect x="255.10" y="92.90" width="46.50" height="13.50" fill="#d2d2d2"/>
<g clip-path="url(#Ac3)"><g filter="url(#blur)">
<ellipse cx="261.80" cy="102.60" rx="7.00" ry="1.50" fill="#111" fill-opacity="0.5"/>
<ellipse cx="277.80" cy="102.60" rx="7.00" ry="1.50" fill="#111" fill-opacity="0.5"/>
<ellipse cx="294.20" cy="102.60" rx="7.50" ry="2.00" fill="#111" fill-opacity="0.95"/>
<ellipse cx="294.20" cy="98.20" rx="7.00" ry="2.40" fill="#111" fill-opacity="0.3"/>
<ellipse cx="261.80" cy="97.50" rx="6.00" ry="1.50" fill="#111" fill-opacity="0.1"/>
<ellipse cx="277.80" cy="97.50" rx="6.00" ry="1.50" fill="#111" fill-opacity="0.12"/>
</g></g>
<text x="252.80" y="100.08" font-size="5.5" text-anchor="end" font-weight="bold" fill="#2a2a2a" stroke="#2a2a2a" stroke-width="0">CSN3</text>
<clipPath id="Ac4"><rect x="255.10" y="107.80" width="46.50" height="13.60"/></clipPath>
<rect x="255.10" y="107.80" width="46.50" height="13.60" fill="#dadada"/>
<g clip-path="url(#Ac4)"><g filter="url(#blur)">
<ellipse cx="261.80" cy="116.60" rx="6.00" ry="2.60" fill="#111" fill-opacity="0.55"/>
<ellipse cx="277.80" cy="116.60" rx="5.50" ry="2.60" fill="#111" fill-opacity="0.55"/>
<ellipse cx="294.20" cy="116.60" rx="4.00" ry="2.00" fill="#111" fill-opacity="0.15"/>
</g></g>
<text x="252.80" y="114.98" font-size="5.5" text-anchor="end" font-weight="bold" fill="#2a2a2a" stroke="#2a2a2a" stroke-width="0">SESN2</text>
<clipPath id="Ac5"><rect x="255.10" y="122.30" width="46.50" height="14.40"/></clipPath>
<rect x="255.10" y="122.30" width="46.50" height="14.40" fill="#c6c6c6"/>
<g clip-path="url(#Ac5)"><g filter="url(#blur)">
<ellipse cx="261.80" cy="130.20" rx="8.50" ry="4.20" fill="#111" fill-opacity="1"/>
<ellipse cx="277.80" cy="130.20" rx="8.50" ry="4.20" fill="#111" fill-opacity="1"/>
<ellipse cx="294.20" cy="130.20" rx="8.50" ry="4.20" fill="#111" fill-opacity="1"/>
<ellipse cx="278.30" cy="130.20" rx="21.00" ry="3.60" fill="#111" fill-opacity="1"/>
</g></g>
<text x="252.80" y="128.98" font-size="5.5" text-anchor="end" font-weight="bold" fill="#2a2a2a" stroke="#2a2a2a" stroke-width="0">β-actin</text>
<text x="302.30" y="55.86" font-size="6.0" text-anchor="start" font-weight="normal" fill="#222" stroke="#222" stroke-width="0.08">-22kDa</text>
<text x="302.30" y="74.56" font-size="6.0" text-anchor="start" font-weight="normal" fill="#222" stroke="#222" stroke-width="0.08">-22kDa</text>
<text x="302.30" y="79.86" font-size="6.0" text-anchor="start" font-weight="normal" fill="#222" stroke="#222" stroke-width="0.08">-46kDa</text>
<text x="302.30" y="102.06" font-size="6.0" text-anchor="start" font-weight="normal" fill="#222" stroke="#222" stroke-width="0.08">-22kDa</text>
<text x="302.30" y="120.46" font-size="6.0" text-anchor="start" font-weight="normal" fill="#222" stroke="#222" stroke-width="0.08">-58kDa</text>
<text x="302.30" y="126.06" font-size="6.0" text-anchor="start" font-weight="normal" fill="#222" stroke="#222" stroke-width="0.08">-46kDa</text>
<text x="302.30" y="137.06" font-size="6.0" text-anchor="start" font-weight="normal" fill="#222" stroke="#222" stroke-width="0.08">-32kDa</text>
<text x="263.78" y="46.30" font-size="5.5" text-anchor="start" font-weight="bold" fill="#2a2a2a" stroke="#2a2a2a" stroke-width="0" transform="rotate(-90 263.78 46.30)">B</text>
<text x="279.78" y="46.30" font-size="5.5" text-anchor="start" font-weight="bold" fill="#2a2a2a" stroke="#2a2a2a" stroke-width="0" transform="rotate(-90 279.78 46.30)">NC</text>
<text x="296.18" y="46.30" font-size="5.5" text-anchor="start" font-weight="bold" fill="#2a2a2a" stroke="#2a2a2a" stroke-width="0" transform="rotate(-90 296.18 46.30)">si-SESN2</text>
<clipPath id="Bc0"><rect x="603.20" y="49.80" width="46.80" height="14.10"/></clipPath>
<rect x="603.20" y="49.80" width="46.80" height="14.10" fill="#c2c2c2"/>
<g clip-path="url(#Bc0)"><g filter="url(#blur)">
<ellipse cx="610.00" cy="57.80" rx="6.50" ry="2.00" fill="#111" fill-opacity="0.95"/>
<ellipse cx="625.60" cy="58.40" rx="7.00" ry="2.10" fill="#111" fill-opacity="0.85"/>
<ellipse cx="641.40" cy="57.80" rx="6.50" ry="1.70" fill="#111" fill-opacity="0.7"/>
</g></g>
<text x="601.40" y="57.41" font-size="5.3" text-anchor="end" font-weight="bold" fill="#2a2a2a" stroke="#2a2a2a" stroke-width="0">CSN1S1</text>
<clipPath id="Bc1"><rect x="603.20" y="65.10" width="46.80" height="14.10"/></clipPath>
<rect x="603.20" y="65.10" width="46.80" height="14.10" fill="#d0d0d0"/>
<g clip-path="url(#Bc1)"><g filter="url(#blur)">
<ellipse cx="610.00" cy="72.30" rx="6.50" ry="2.40" fill="#111" fill-opacity="0.95"/>
<ellipse cx="625.60" cy="72.30" rx="6.50" ry="2.40" fill="#111" fill-opacity="0.95"/>
<ellipse cx="641.40" cy="72.80" rx="6.00" ry="1.90" fill="#111" fill-opacity="0.7"/>
</g></g>
<text x="601.40" y="72.71" font-size="5.3" text-anchor="end" font-weight="bold" fill="#2a2a2a" stroke="#2a2a2a" stroke-width="0">CSN1S2</text>
<clipPath id="Bc2"><rect x="603.20" y="80.00" width="46.80" height="14.30"/></clipPath>
<rect x="603.20" y="80.00" width="46.80" height="14.30" fill="#c9c9c9"/>
<g clip-path="url(#Bc2)"><g filter="url(#blur)">
<ellipse cx="610.00" cy="87.20" rx="7.00" ry="3.60" fill="#111" fill-opacity="1"/>
<ellipse cx="625.60" cy="87.20" rx="7.50" ry="4.00" fill="#111" fill-opacity="1"/>
<ellipse cx="641.40" cy="87.80" rx="6.00" ry="3.00" fill="#111" fill-opacity="1"/>
</g></g>
<text x="601.40" y="88.11" font-size="5.3" text-anchor="end" font-weight="bold" fill="#2a2a2a" stroke="#2a2a2a" stroke-width="0">CSN2</text>
<clipPath id="Bc3"><rect x="603.20" y="95.40" width="46.80" height="14.20"/></clipPath>
<rect x="603.20" y="95.40" width="46.80" height="14.20" fill="#cacaca"/>
<g clip-path="url(#Bc3)"><g filter="url(#blur)">
<ellipse cx="610.00" cy="103.80" rx="7.00" ry="2.80" fill="#111" fill-opacity="0.95"/>
<ellipse cx="625.60" cy="103.80" rx="7.00" ry="3.00" fill="#111" fill-opacity="0.9"/>
<ellipse cx="641.40" cy="103.80" rx="5.50" ry="1.80" fill="#111" fill-opacity="0.3"/>
<ellipse cx="610.00" cy="100.20" rx="6.50" ry="2.60" fill="#111" fill-opacity="0.45"/>
<ellipse cx="625.60" cy="100.20" rx="6.50" ry="2.60" fill="#111" fill-opacity="0.45"/>
</g></g>
<text x="601.40" y="103.81" font-size="5.3" text-anchor="end" font-weight="bold" fill="#2a2a2a" stroke="#2a2a2a" stroke-width="0">CSN3</text>
<clipPath id="Bc4"><rect x="603.20" y="110.70" width="46.80" height="13.80"/></clipPath>
<rect x="603.20" y="110.70" width="46.80" height="13.80" fill="#cacaca"/>
<g clip-path="url(#Bc4)"><g filter="url(#blur)">
<ellipse cx="610.00" cy="117.30" rx="6.00" ry="1.50" fill="#111" fill-opacity="0.8"/>
<ellipse cx="625.60" cy="116.80" rx="5.00" ry="1.40" fill="#111" fill-opacity="0.75"/>
<ellipse cx="641.40" cy="116.20" rx="6.50" ry="1.80" fill="#111" fill-opacity="0.95"/>
</g></g>
<text x="601.40" y="118.51" font-size="5.3" text-anchor="end" font-weight="bold" fill="#2a2a2a" stroke="#2a2a2a" stroke-width="0">SESN2</text>
<clipPath id="Bc5"><rect x="603.20" y="125.60" width="46.80" height="14.00"/></clipPath>
<rect x="603.20" y="125.60" width="46.80" height="14.00" fill="#d2d2d2"/>
<g clip-path="url(#Bc5)"><g filter="url(#blur)">
<ellipse cx="610.00" cy="132.90" rx="8.50" ry="3.90" fill="#111" fill-opacity="1"/>
<ellipse cx="625.60" cy="132.90" rx="8.50" ry="3.90" fill="#111" fill-opacity="1"/>
<ellipse cx="641.40" cy="132.90" rx="8.50" ry="3.90" fill="#111" fill-opacity="1"/>
<ellipse cx="626.00" cy="132.90" rx="21.00" ry="3.20" fill="#111" fill-opacity="1"/>
</g></g>
<text x="601.40" y="133.11" font-size="5.3" text-anchor="end" font-weight="bold" fill="#2a2a2a" stroke="#2a2a2a" stroke-width="0">β-actin</text>
<text x="650.20" y="58.20" font-size="6.1" text-anchor="start" font-weight="normal" fill="#222" stroke="#222" stroke-width="0.08">-22kDa</text>
<text x="650.20" y="80.10" font-size="6.1" text-anchor="start" font-weight="normal" fill="#222" stroke="#222" stroke-width="0.08">-22kDa</text>
<text x="650.20" y="85.70" font-size="6.1" text-anchor="start" font-weight="normal" fill="#222" stroke="#222" stroke-width="0.08">-46kDa</text>
<text x="650.20" y="99.40" font-size="6.1" text-anchor="start" font-weight="normal" fill="#222" stroke="#222" stroke-width="0.08">-22kDa</text>
<text x="650.20" y="120.20" font-size="6.1" text-anchor="start" font-weight="normal" fill="#222" stroke="#222" stroke-width="0.08">-58kDa</text>
<text x="650.20" y="129.30" font-size="6.1" text-anchor="start" font-weight="normal" fill="#222" stroke="#222" stroke-width="0.08">-46kDa</text>
<text x="650.20" y="139.50" font-size="6.1" text-anchor="start" font-weight="normal" fill="#222" stroke="#222" stroke-width="0.08">-32kDa</text>
<text x="611.91" y="48.00" font-size="5.3" text-anchor="start" font-weight="bold" fill="#2a2a2a" stroke="#2a2a2a" stroke-width="0" transform="rotate(-90 611.91 48.00)">B</text>
<text x="627.51" y="48.00" font-size="5.3" text-anchor="start" font-weight="bold" fill="#2a2a2a" stroke="#2a2a2a" stroke-width="0" transform="rotate(-90 627.51 48.00)">EV</text>
<text x="643.31" y="48.00" font-size="5.3" text-anchor="start" font-weight="bold" fill="#2a2a2a" stroke="#2a2a2a" stroke-width="0" transform="rotate(-90 643.31 48.00)">SESN2 GO</text>
<clipPath id="Cc0"><rect x="242.20" y="224.00" width="55.50" height="12.50"/></clipPath>
<rect x="242.20" y="224.00" width="55.50" height="12.50" fill="#c6c6c6"/>
<g clip-path="url(#Cc0)"><g filter="url(#blur)">
<ellipse cx="248.50" cy="231.20" rx="5.00" ry="1.50" fill="#111" fill-opacity="0.55"/>
<ellipse cx="261.60" cy="231.20" rx="5.50" ry="1.70" fill="#111" fill-opacity="0.75"/>
<ellipse cx="276.50" cy="231.20" rx="5.50" ry="1.70" fill="#111" fill-opacity="0.75"/>
<ellipse cx="292.00" cy="231.20" rx="5.50" ry="1.80" fill="#111" fill-opacity="1"/>
</g></g>
<text x="240.80" y="233.69" font-size="4.7" text-anchor="end" font-weight="bold" fill="#2a2a2a" stroke="#2a2a2a" stroke-width="0">CSN1S1</text>
<clipPath id="Cc1"><rect x="242.20" y="237.80" width="55.50" height="12.20"/></clipPath>
<rect x="242.20" y="237.80" width="55.50" height="12.20" fill="#d2d2d2"/>
<g clip-path="url(#Cc1)"><g filter="url(#blur)">
<ellipse cx="248.50" cy="243.50" rx="5.00" ry="1.50" fill="#111" fill-opacity="0.35"/>
<ellipse cx="261.60" cy="243.50" rx="6.00" ry="1.90" fill="#111" fill-opacity="0.95"/>
<ellipse cx="276.50" cy="243.50" rx="5.50" ry="1.90" fill="#111" fill-opacity="0.9"/>
<ellipse cx="292.00" cy="243.50" rx="6.50" ry="2.20" fill="#111" fill-opacity="1"/>
</g></g>
<text x="240.80" y="246.79" font-size="4.7" text-anchor="end" font-weight="bold" fill="#2a2a2a" stroke="#2a2a2a" stroke-width="0">CSN1S2</text>
<clipPath id="Cc2"><rect x="242.20" y="251.70" width="55.50" height="12.30"/></clipPath>
<rect x="242.20" y="251.70" width="55.50" height="12.30" fill="#cacaca"/>
<g clip-path="url(#Cc2)"><g filter="url(#blur)">
<ellipse cx="248.50" cy="258.00" rx="6.00" ry="2.00" fill="#111" fill-opacity="1"/>
<ellipse cx="261.60" cy="258.00" rx="7.00" ry="2.70" fill="#111" fill-opacity="1"/>
<ellipse cx="276.50" cy="258.00" rx="7.00" ry="2.70" fill="#111" fill-opacity="1"/>
<ellipse cx="292.00" cy="258.00" rx="7.50" ry="3.10" fill="#111" fill-opacity="1"/>
</g></g>
<text x="240.80" y="259.29" font-size="4.7" text-anchor="end" font-weight="bold" fill="#2a2a2a" stroke="#2a2a2a" stroke-width="0">CSN2</text>
<clipPath id="Cc3"><rect x="242.20" y="265.20" width="55.50" height="8.70"/></clipPath>
<rect x="242.20" y="265.20" width="55.50" height="8.70" fill="#cccccc"/>
<g clip-path="url(#Cc3)"><g filter="url(#blur)">
<ellipse cx="248.50" cy="270.20" rx="4.50" ry="1.00" fill="#111" fill-opacity="0.45"/>
<ellipse cx="261.60" cy="270.20" rx="5.00" ry="1.20" fill="#111" fill-opacity="0.7"/>
<ellipse cx="276.50" cy="270.20" rx="5.50" ry="1.20" fill="#111" fill-opacity="0.75"/>
<ellipse cx="292.00" cy="270.20" rx="6.00" ry="1.80" fill="#111" fill-opacity="1"/>
</g></g>
<text x="240.80" y="271.89" font-size="4.7" text-anchor="end" font-weight="bold" fill="#2a2a2a" stroke="#2a2a2a" stroke-width="0">CSN3</text>
<clipPath id="Cc4"><rect x="242.20" y="275.10" width="55.50" height="11.40"/></clipPath>
<rect x="242.20" y="275.10" width="55.50" height="11.40" fill="#c2c2c2"/>
<g clip-path="url(#Cc4)"><g filter="url(#blur)">
<ellipse cx="248.50" cy="282.20" rx="7.50" ry="2.20" fill="#111" fill-opacity="1"/>
<ellipse cx="261.60" cy="282.20" rx="5.50" ry="1.40" fill="#111" fill-opacity="0.9"/>
<ellipse cx="276.50" cy="282.20" rx="5.50" ry="1.50" fill="#111" fill-opacity="0.95"/>
<ellipse cx="292.00" cy="281.40" rx="5.50" ry="1.30" fill="#111" fill-opacity="0.95"/>
</g></g>
<text x="240.80" y="284.19" font-size="4.7" text-anchor="end" font-weight="bold" fill="#2a2a2a" stroke="#2a2a2a" stroke-width="0">SESN2</text>
<clipPath id="Cc5"><rect x="242.20" y="287.90" width="55.50" height="13.00"/></clipPath>
<rect x="242.20" y="287.90" width="55.50" height="13.00" fill="#cacaca"/>
<g clip-path="url(#Cc5)"><g filter="url(#blur)">
<ellipse cx="248.50" cy="295.30" rx="7.50" ry="1.90" fill="#111" fill-opacity="1"/>
<ellipse cx="261.60" cy="295.30" rx="7.50" ry="2.00" fill="#111" fill-opacity="1"/>
<ellipse cx="276.50" cy="295.30" rx="7.50" ry="2.00" fill="#111" fill-opacity="1"/>
<ellipse cx="292.00" cy="295.30" rx="7.50" ry="2.00" fill="#111" fill-opacity="1"/>
<ellipse cx="270.00" cy="295.30" rx="25.00" ry="1.30" fill="#111" fill-opacity="1"/>
</g></g>
<text x="240.80" y="296.99" font-size="4.7" text-anchor="end" font-weight="bold" fill="#2a2a2a" stroke="#2a2a2a" stroke-width="0">β-actin</text>
<text x="298.80" y="229.10" font-size="5.0" text-anchor="start" font-weight="normal" fill="#222" stroke="#222" stroke-width="0.08">-22kDa</text>
<text x="298.80" y="248.30" font-size="5.0" text-anchor="start" font-weight="normal" fill="#222" stroke="#222" stroke-width="0.08">-22kDa</text>
<text x="298.80" y="254.10" font-size="5.0" text-anchor="start" font-weight="normal" fill="#222" stroke="#222" stroke-width="0.08">-46kDa</text>
<text x="298.80" y="268.10" font-size="5.0" text-anchor="start" font-weight="normal" fill="#222" stroke="#222" stroke-width="0.08">-22kDa</text>
<text x="298.80" y="285.20" font-size="5.0" text-anchor="start" font-weight="normal" fill="#222" stroke="#222" stroke-width="0.08">-58kDa</text>
<text x="298.80" y="291.80" font-size="5.0" text-anchor="start" font-weight="normal" fill="#222" stroke="#222" stroke-width="0.08">-46kDa</text>
<text x="298.80" y="300.90" font-size="5.0" text-anchor="start" font-weight="normal" fill="#222" stroke="#222" stroke-width="0.08">-32kDa</text>
<text x="250.59" y="222.00" font-size="4.7" text-anchor="start" font-weight="bold" fill="#2a2a2a" stroke="#2a2a2a" stroke-width="0" transform="rotate(-90 250.59 222.00)" font-style="italic">AA-</text>
<text x="263.59" y="222.00" font-size="4.7" text-anchor="start" font-weight="bold" fill="#2a2a2a" stroke="#2a2a2a" stroke-width="0" transform="rotate(-90 263.59 222.00)" font-style="italic">AA-/si-SESN2</text>
<text x="279.39" y="222.00" font-size="4.7" text-anchor="start" font-weight="bold" fill="#2a2a2a" stroke="#2a2a2a" stroke-width="0" transform="rotate(-90 279.39 222.00)" font-style="italic">EAA+</text>
<text x="293.69" y="222.00" font-size="4.7" text-anchor="start" font-weight="bold" fill="#2a2a2a" stroke="#2a2a2a" stroke-width="0" transform="rotate(-90 293.69 222.00)" font-style="italic">AA+</text>
<clipPath id="Dc0"><rect x="589.00" y="216.60" width="72.50" height="12.50"/></clipPath>
<rect x="589.00" y="216.60" width="72.50" height="12.50" fill="#dadada"/>
<g clip-path="url(#Dc0)"><g filter="url(#blur)">
<ellipse cx="595.00" cy="223.20" rx="4.50" ry="1.20" fill="#111" fill-opacity="0.9"/>
<ellipse cx="611.50" cy="223.80" rx="7.00" ry="2.00" fill="#111" fill-opacity="1"/>
<ellipse cx="626.00" cy="224.80" rx="7.00" ry="2.00" fill="#111" fill-opacity="1"/>
<ellipse cx="640.20" cy="223.80" rx="5.50" ry="1.10" fill="#111" fill-opacity="0.85"/>
<ellipse cx="654.30" cy="223.80" rx="6.00" ry="1.50" fill="#111" fill-opacity="0.95"/>
</g></g>
<text x="587.80" y="225.20" font-size="5.0" text-anchor="end" font-weight="bold" fill="#2a2a2a" stroke="#2a2a2a" stroke-width="0">CSN1S1</text>
<clipPath id="Dc1"><rect x="589.00" y="231.00" width="72.50" height="12.40"/></clipPath>
<rect x="589.00" y="231.00" width="72.50" height="12.40" fill="#cacaca"/>
<g clip-path="url(#Dc1)"><g filter="url(#blur)">
<ellipse cx="595.00" cy="236.80" rx="4.50" ry="1.50" fill="#111" fill-opacity="0.5"/>
<ellipse cx="611.50" cy="236.80" rx="6.50" ry="2.10" fill="#111" fill-opacity="0.95"/>
<ellipse cx="626.00" cy="236.80" rx="7.50" ry="2.80" fill="#111" fill-opacity="1"/>
<ellipse cx="640.20" cy="236.80" rx="4.50" ry="1.40" fill="#111" fill-opacity="0.6"/>
<ellipse cx="654.30" cy="236.80" rx="6.00" ry="1.90" fill="#111" fill-opacity="0.95"/>
</g></g>
<text x="587.80" y="238.50" font-size="5.0" text-anchor="end" font-weight="bold" fill="#2a2a2a" stroke="#2a2a2a" stroke-width="0">CSN1S2</text>
<clipPath id="Dc2"><rect x="589.00" y="244.70" width="72.50" height="11.90"/></clipPath>
<rect x="589.00" y="244.70" width="72.50" height="11.90" fill="#d2d2d2"/>
<g clip-path="url(#Dc2)"><g filter="url(#blur)">
<ellipse cx="595.00" cy="250.80" rx="5.00" ry="1.20" fill="#111" fill-opacity="0.8"/>
<ellipse cx="611.50" cy="250.80" rx="7.50" ry="2.70" fill="#111" fill-opacity="1"/>
<ellipse cx="626.00" cy="250.80" rx="7.50" ry="2.90" fill="#111" fill-opacity="1"/>
<ellipse cx="640.20" cy="251.60" rx="4.50" ry="1.10" fill="#111" fill-opacity="0.55"/>
<ellipse cx="654.30" cy="250.80" rx="6.50" ry="2.40" fill="#111" fill-opacity="1"/>
</g></g>
<text x="587.80" y="252.50" font-size="5.0" text-anchor="end" font-weight="bold" fill="#2a2a2a" stroke="#2a2a2a" stroke-width="0">CSN2</text>
<clipPath id="Dc3"><rect x="589.00" y="258.60" width="72.50" height="12.00"/></clipPath>
<rect x="589.00" y="258.60" width="72.50" height="12.00" fill="#cecece"/>
<g clip-path="url(#Dc3)"><g filter="url(#blur)">
<ellipse cx="595.00" cy="264.40" rx="5.00" ry="1.20" fill="#111" fill-opacity="0.8"/>
<ellipse cx="611.50" cy="264.40" rx="5.50" ry="1.80" fill="#111" fill-opacity="0.95"/>
<ellipse cx="626.00" cy="264.40" rx="6.00" ry="2.00" fill="#111" fill-opacity="1"/>
<ellipse cx="640.20" cy="264.40" rx="4.50" ry="1.00" fill="#111" fill-opacity="0.6"/>
<ellipse cx="654.30" cy="264.40" rx="6.00" ry="1.90" fill="#111" fill-opacity="0.95"/>
</g></g>
<text x="587.80" y="265.70" font-size="5.0" text-anchor="end" font-weight="bold" fill="#2a2a2a" stroke="#2a2a2a" stroke-width="0">CSN3</text>
<clipPath id="Dc4"><rect x="589.00" y="272.30" width="72.50" height="11.70"/></clipPath>
<rect x="589.00" y="272.30" width="72.50" height="11.70" fill="#cacaca"/>
<g clip-path="url(#Dc4)"><g filter="url(#blur)">
<ellipse cx="595.00" cy="278.00" rx="6.50" ry="2.30" fill="#111" fill-opacity="1"/>
<ellipse cx="611.50" cy="278.00" rx="5.00" ry="1.70" fill="#111" fill-opacity="0.95"/>
<ellipse cx="626.00" cy="278.00" rx="5.00" ry="1.10" fill="#111" fill-opacity="0.9"/>
<ellipse cx="640.20" cy="278.60" rx="7.00" ry="2.50" fill="#111" fill-opacity="1"/>
<ellipse cx="654.30" cy="278.40" rx="6.50" ry="2.50" fill="#111" fill-opacity="1"/>
</g></g>
<text x="587.80" y="279.50" font-size="5.0" text-anchor="end" font-weight="bold" fill="#2a2a2a" stroke="#2a2a2a" stroke-width="0">SESN2</text>
<clipPath id="Dc5"><rect x="589.00" y="285.70" width="72.50" height="12.00"/></clipPath>
<rect x="589.00" y="285.70" width="72.50" height="12.00" fill="#cacaca"/>
<g clip-path="url(#Dc5)"><g filter="url(#blur)">
<ellipse cx="595.00" cy="291.50" rx="8.50" ry="2.00" fill="#111" fill-opacity="1"/>
<ellipse cx="611.50" cy="291.50" rx="8.50" ry="2.10" fill="#111" fill-opacity="1"/>
<ellipse cx="626.00" cy="291.50" rx="8.50" ry="2.10" fill="#111" fill-opacity="1"/>
<ellipse cx="640.20" cy="291.50" rx="8.50" ry="2.10" fill="#111" fill-opacity="1"/>
<ellipse cx="654.30" cy="291.50" rx="8.50" ry="2.00" fill="#111" fill-opacity="1"/>
<ellipse cx="625.30" cy="291.50" rx="33.00" ry="1.50" fill="#111" fill-opacity="1"/>
</g></g>
<text x="587.80" y="292.80" font-size="5.0" text-anchor="end" font-weight="bold" fill="#2a2a2a" stroke="#2a2a2a" stroke-width="0">β-actin</text>
<text x="661.90" y="224.00" font-size="6.1" text-anchor="start" font-weight="normal" fill="#222" stroke="#222" stroke-width="0.08">-22kDa</text>
<text x="661.90" y="242.40" font-size="6.1" text-anchor="start" font-weight="normal" fill="#222" stroke="#222" stroke-width="0.08">-22kDa</text>
<text x="661.90" y="248.10" font-size="6.1" text-anchor="start" font-weight="normal" fill="#222" stroke="#222" stroke-width="0.08">-46kDa</text>
<text x="661.90" y="261.40" font-size="6.1" text-anchor="start" font-weight="normal" fill="#222" stroke="#222" stroke-width="0.08">-22kDa</text>
<text x="661.90" y="283.10" font-size="6.1" text-anchor="start" font-weight="normal" fill="#222" stroke="#222" stroke-width="0.08">-58kDa</text>
<text x="661.90" y="288.50" font-size="6.1" text-anchor="start" font-weight="normal" fill="#222" stroke="#222" stroke-width="0.08">-46kDa</text>
<text x="661.90" y="298.40" font-size="6.1" text-anchor="start" font-weight="normal" fill="#222" stroke="#222" stroke-width="0.08">-32kDa</text>
<text x="596.84" y="215.30" font-size="5.1" text-anchor="start" font-weight="bold" fill="#2a2a2a" stroke="#2a2a2a" stroke-width="0" transform="rotate(-90 596.84 215.30)">AA-</text>
<text x="613.34" y="215.30" font-size="5.1" text-anchor="start" font-weight="bold" fill="#2a2a2a" stroke="#2a2a2a" stroke-width="0" transform="rotate(-90 613.34 215.30)">EAA+</text>
<text x="627.84" y="215.30" font-size="5.1" text-anchor="start" font-weight="bold" fill="#2a2a2a" stroke="#2a2a2a" stroke-width="0" transform="rotate(-90 627.84 215.30)">AA+</text>
<text x="642.04" y="215.30" font-size="5.1" text-anchor="start" font-weight="bold" fill="#2a2a2a" stroke="#2a2a2a" stroke-width="0" transform="rotate(-90 642.04 215.30)">EAA+/SESN2 GO</text>
<text x="656.14" y="215.30" font-size="5.1" text-anchor="start" font-weight="bold" fill="#2a2a2a" stroke="#2a2a2a" stroke-width="0" transform="rotate(-90 656.14 215.30)">AA+/SESN2 GO</text>
</svg>
</body>
</html>
